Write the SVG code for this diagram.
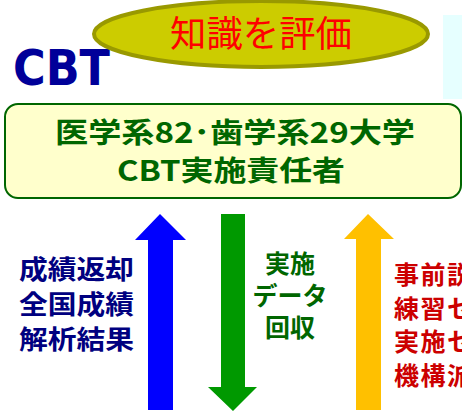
<svg xmlns="http://www.w3.org/2000/svg" width="462" height="418" viewBox="0 0 462 418">
<style>
.jp{font-family:"Noto Sans CJK JP","Noto Sans",sans-serif;font-weight:bold}
.lat{font-family:"DejaVu Sans","Noto Sans CJK JP",sans-serif;font-weight:bold}
</style>
<rect width="462" height="418" fill="#ffffff"/>
<g id="side-panel"><rect x="443" y="15" width="19" height="84" fill="#E6FFFF"/></g>
<g id="cbt-title"><text class="lat" x="13" y="85" font-size="50" fill="#000099" textLength="97" lengthAdjust="spacingAndGlyphs">CBT</text></g>
<g id="evaluate">
<ellipse cx="261" cy="34" rx="167" ry="33" fill="#CCCC00" stroke="#999900" stroke-width="4"/>
<text x="261" y="47" text-anchor="middle" font-family="Noto Sans CJK JP,sans-serif" font-size="36" fill="#FF0000" textLength="182" lengthAdjust="spacingAndGlyphs">知識を評価</text>
</g>
<g id="responsible">
<rect x="5" y="104" width="456" height="94" rx="13" fill="#FFFFCC" stroke="#006600" stroke-width="2"/>
<text class="jp" x="235" y="143" text-anchor="middle" font-size="28" fill="#006600" textLength="360" lengthAdjust="spacingAndGlyphs">医学系82･歯学系29大学</text>
<text class="jp" x="231" y="181" text-anchor="middle" font-size="28" fill="#006600" textLength="228" lengthAdjust="spacingAndGlyphs">CBT実施責任者</text>
</g>
<g id="connectors">
<polygon points="160,214 186,240 173,240 173,410 148,410 148,240 135,240" fill="#0000FF"/>
<polygon points="233,411 257,387 245,387 245,214 221,214 221,387 208,387" fill="#009900"/>
<polygon points="368,214 394,239 381,239 381,410 356,410 356,239 344,239" fill="#FFC000"/>
</g>
<g id="label-results" class="jp" fill="#000080" font-size="26">
<text x="19" y="279" textLength="115" lengthAdjust="spacingAndGlyphs">成績返却</text>
<text x="19" y="314" textLength="115" lengthAdjust="spacingAndGlyphs">全国成績</text>
<text x="19" y="349" textLength="115" lengthAdjust="spacingAndGlyphs">解析結果</text>
</g>
<g id="label-data" class="jp" fill="#006600" font-size="25" text-anchor="middle">
<text x="290" y="273">実施</text>
<text x="290" y="305">データ</text>
<text x="290" y="337">回収</text>
</g>
<g id="label-prep" class="jp" fill="#CC0000" font-size="25">
<text x="394" y="284" letter-spacing="1.5">事前説</text>
<text x="394" y="318" letter-spacing="1.5">練習セ</text>
<text x="394" y="351" letter-spacing="1.5">実施セ</text>
<text x="394" y="385" letter-spacing="1.5">機構派</text>
</g>
</svg>
